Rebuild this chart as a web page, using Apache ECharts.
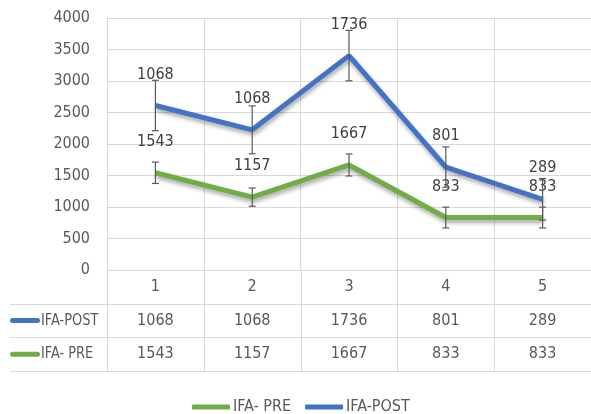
<!DOCTYPE html>
<html><head><meta charset="utf-8">
<script src="https://cdn.jsdelivr.net/npm/echarts@6/dist/echarts.min.js"></script>
<style>html,body{margin:0;padding:0;background:#fff}#c{width:591px;height:414px}</style>
</head><body><div id="c"></div>
<script>
const categories = ['1', '2', '3', '4', '5'];
const ifaPre = [1543, 1157, 1667, 833, 833];
const ifaPost = [1068, 1068, 1736, 801, 289];
const preErr = [170, 145, 175, 165, 165];
const postErr = [400, 380, 400, 320, 330];
const yMin = 0, yMax = 4000, yStep = 500;

const FONT = '"Liberation Sans Narrow", "DejaVu Sans Condensed", "Liberation Sans", sans-serif';
const TXT = '#595959';
const GRID = '#d9d9d9';
const BLUE = '#4472C4';
const GREEN = '#70AD47';
const ROW = 33.7;
const FS = 16;

const postTop = ifaPre.map((v, i) => v + ifaPost[i]);

function errData(centers, errs) {
  return centers.map((c, i) => [i, c - errs[i], c + errs[i]]);
}
function renderErr(params, api) {
  const x = api.value(0);
  const lo = api.coord([x, api.value(1)]);
  const hi = api.coord([x, api.value(2)]);
  const w = 3.5;
  const st = { stroke: '#595959', lineWidth: 1.2 };
  return { type: 'group', children: [
    { type: 'line', shape: { x1: lo[0], y1: lo[1], x2: hi[0], y2: hi[1] }, style: st },
    { type: 'line', shape: { x1: lo[0] - w, y1: lo[1], x2: lo[0] + w, y2: lo[1] }, style: st },
    { type: 'line', shape: { x1: hi[0] - w, y1: hi[1], x2: hi[0] + w, y2: hi[1] }, style: st }
  ]};
}

const chart = echarts.init(document.getElementById('c'), null, { renderer: 'canvas' });
const lineStyle = (c) => ({ color: c, width: 5, shadowColor: 'rgba(0,0,0,0.35)', shadowBlur: 4, shadowOffsetY: 3, shadowOffsetX: 1 });
const labelStyle = { show: true, position: 'top', distance: 22, color: '#404040', fontFamily: FONT, fontSize: FS };
const hidden = { color: 'rgba(0,0,0,0)', borderColor: 'rgba(0,0,0,0)', borderWidth: 0 };

chart.setOption({
  animation: false,
  textStyle: { fontFamily: FONT },
  grid: { left: 107, right: 0, top: 18, bottom: 144, containLabel: false },
  legend: {
    data: [
      { name: 'IFA- PRE', itemStyle: { color: GREEN } },
      { name: 'IFA-POST', itemStyle: { color: BLUE } }
    ],
    left: 187, top: 394,
    icon: 'roundRect', itemWidth: 38, itemHeight: 5, itemGap: 14,
    textStyle: { color: TXT, fontFamily: FONT, fontSize: FS, padding: [0, 0, 0, -2] }
  },
  xAxis: {
    type: 'category', data: categories, boundaryGap: true,
    axisLine: { show: true, lineStyle: { color: GRID } },
    axisTick: { show: false },
    splitLine: { show: true, lineStyle: { color: GRID, width: 1 } },
    axisLabel: {
      color: TXT, fontFamily: FONT, fontSize: FS, lineHeight: ROW, margin: 0,
      formatter: (v, i) => v + '\n' + ifaPost[i] + '\n' + ifaPre[i]
    }
  },
  yAxis: {
    type: 'value', min: yMin, max: yMax, interval: yStep,
    axisLine: { show: false }, axisTick: { show: false },
    splitLine: { lineStyle: { color: GRID, width: 1 } },
    axisLabel: { color: TXT, fontFamily: FONT, fontSize: FS, margin: 17, formatter: (v) => String(v) }
  },
  series: [
    { name: 'IFA- PRE', type: 'line', stack: 'total', data: ifaPre, symbol: 'circle', symbolSize: 2, showSymbol: true,
      itemStyle: hidden, color: GREEN,
      lineStyle: lineStyle(GREEN), label: labelStyle, z: 3 },
    { name: 'IFA-POST', type: 'line', stack: 'total', data: ifaPost, symbol: 'circle', symbolSize: 2, showSymbol: true,
      itemStyle: hidden, color: BLUE,
      lineStyle: lineStyle(BLUE), label: labelStyle, z: 3 },
    { name: 'errPre', type: 'custom', data: errData(ifaPre, preErr), renderItem: renderErr, z: 5, silent: true, encode: { x: 0, y: [1, 2] } },
    { name: 'errPost', type: 'custom', data: errData(postTop, postErr), renderItem: renderErr, z: 5, silent: true, encode: { x: 0, y: [1, 2] } }
  ]
});

// data table grid lines and row headers
const c0 = chart.convertToPixel({ xAxisIndex: 0 }, 0);
const c1 = chart.convertToPixel({ xAxisIndex: 0 }, 1);
const band = c1 - c0;
const y0 = chart.convertToPixel({ yAxisIndex: 0 }, 0);
const tableLeft = 10;
const right = 591;
const g = [];
for (let r = 1; r <= 3; r++) {
  const y = Math.round(y0 + ROW * r) + 0.5;
  g.push({ type: 'line', shape: { x1: tableLeft, y1: y, x2: right, y2: y }, style: { stroke: GRID, lineWidth: 1 } });
}
for (let i = 0; i < categories.length; i++) {
  const x = Math.round(c0 - band / 2 + band * i) + 0.5;
  g.push({ type: 'line', shape: { x1: x, y1: y0, x2: x, y2: y0 + ROW * 3 }, style: { stroke: GRID, lineWidth: 1 } });
}
const rows = [['IFA-POST', BLUE], ['IFA- PRE', GREEN]];
rows.forEach((r, k) => {
  const yc = y0 + ROW * (k + 1.5);
  g.push({ type: 'rect', shape: { x: 10, y: yc - 2.5, width: 30, height: 5, r: 2.5 }, style: { fill: r[1] } });
  g.push({ type: 'text', x: 41, y: yc, scaleX: 0.9, style: { text: r[0], fill: TXT, font: FS + 'px ' + FONT, verticalAlign: 'middle' } });
});
chart.setOption({ graphic: g });
</script></body></html>
